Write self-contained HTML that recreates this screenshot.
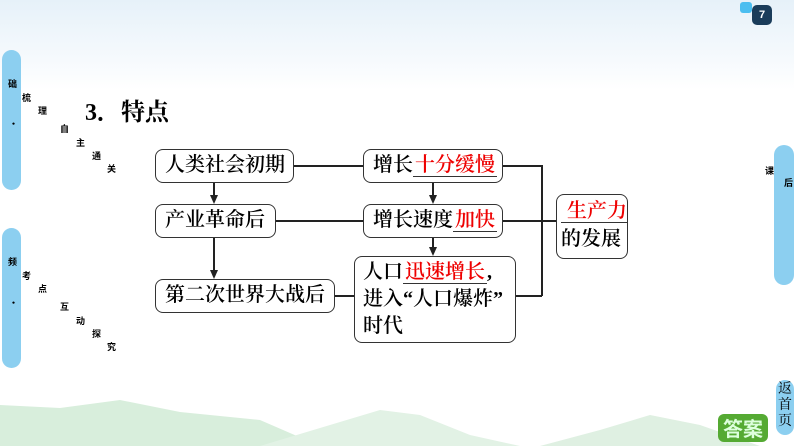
<!DOCTYPE html>
<html><head><meta charset="utf-8"><style>
body{margin:0;width:794px;height:446px;overflow:hidden;position:relative;background:linear-gradient(#e6f1f9 0,#f6fafd 60px,#fff 90px);font-family:"Liberation Serif","Noto Serif CJK SC",serif;}
.b{position:absolute;border:1.5px solid #333;border-radius:8px;box-sizing:border-box;background:#fff;font-size:20px;font-weight:600;color:#000;line-height:31px;padding-left:9px;white-space:nowrap}
.r{color:#e00;border-bottom:1.5px solid #333;padding:0 2px}
.h{position:absolute;background:#222;height:1.5px}
.v{position:absolute;background:#222;width:1.5px}
.ar{position:absolute;width:0;height:0;border-left:4px solid transparent;border-right:4px solid transparent;border-top:9px solid #222}
.pill{position:absolute;background:#8ccff0;border-radius:10px}
.sm{position:absolute;font-size:9px;font-family:"Noto Sans CJK SC",sans-serif;font-weight:bold}
</style></head><body>
<svg style="position:absolute;left:0;top:380px" width="794" height="66"><path d="M0 25 L60 28 L120 20 L180 32 L260 40 L320 66 L0 66Z" fill="#d8eedc"/><path d="M260 66 L330 45 L380 30 L420 35 L470 55 L520 66Z" fill="#e2f2e5"/><path d="M540 66 L600 50 L650 35 L700 45 L760 66Z" fill="#dff0e2"/></svg>
<div class="pill" style="left:2px;top:50px;width:19px;height:140px"></div>
<div class="pill" style="left:2px;top:228px;width:19px;height:140px"></div>
<div class="pill" style="left:774px;top:145px;width:20px;height:140px"></div>
<div class="pill" style="left:776px;top:380px;width:18px;height:55px"></div>
<div style="position:absolute;left:778px;top:382px;font-size:14px;line-height:16px;width:14px">返首页</div>
<div style="position:absolute;left:718px;top:414px;width:50px;height:28px;border-radius:6px;background:#5a3;color:#dfd;font-weight:bold;font-size:20px;line-height:28px;text-align:center;font-family:'Noto Sans CJK SC',sans-serif">答案</div>
<div style="position:absolute;left:740px;top:2px;width:12px;height:11px;background:#4bbef0;border-radius:3px"></div>
<div style="position:absolute;left:752px;top:5px;width:20px;height:20px;background:#1a3c5a;border-radius:5px;color:#fff;font-size:11px;font-weight:bold;text-align:center;line-height:20px;font-family:'Liberation Sans',sans-serif">7</div>
<div class="sm" style="left:8px;top:77px">础</div>
<div class="sm" style="left:22px;top:91px">梳</div><div class="sm" style="left:38px;top:104px">理</div><div class="sm" style="left:9px;top:117px">·</div>
<div class="sm" style="left:60px;top:122px">自</div><div class="sm" style="left:76px;top:136px">主</div><div class="sm" style="left:92px;top:149px">通</div><div class="sm" style="left:107px;top:162px">关</div>
<div class="sm" style="left:8px;top:255px">频</div><div class="sm" style="left:22px;top:269px">考</div><div class="sm" style="left:38px;top:282px">点</div><div class="sm" style="left:9px;top:296px">·</div>
<div class="sm" style="left:60px;top:300px">互</div><div class="sm" style="left:76px;top:314px">动</div><div class="sm" style="left:92px;top:327px">探</div><div class="sm" style="left:107px;top:340px">究</div>
<div class="sm" style="left:765px;top:164px">课</div><div class="sm" style="left:784px;top:176px">后</div>
<div style="position:absolute;left:85px;top:92px;font-size:24px;font-weight:bold">3．特点</div>
<div class="h" style="left:293px;top:165px;width:70px"></div>
<div class="h" style="left:275px;top:220px;width:88px"></div>
<div class="h" style="left:334px;top:295px;width:20px"></div>
<div class="h" style="left:502px;top:165px;width:40px"></div>
<div class="h" style="left:515px;top:295px;width:27px"></div>
<div class="v" style="left:541px;top:165px;height:131px"></div>
<div class="h" style="left:502px;top:220px;width:54px"></div>
<div class="v" style="left:213px;top:182px;height:14px"></div><div class="ar" style="left:210px;top:195px"></div>
<div class="v" style="left:213px;top:237px;height:34px"></div><div class="ar" style="left:210px;top:270px"></div>
<div class="v" style="left:432px;top:182px;height:14px"></div><div class="ar" style="left:429px;top:195px"></div>
<div class="v" style="left:432px;top:237px;height:11px"></div><div class="ar" style="left:429px;top:247px"></div>
<div class="b" style="left:155px;top:149px;width:139px;height:34px">人类社会初期</div>
<div class="b" style="left:155px;top:204px;width:121px;height:34px">产业革命后</div>
<div class="b" style="left:155px;top:279px;width:180px;height:34px">第二次世界大战后</div>
<div class="b" style="left:363px;top:149px;width:140px;height:34px">增长<span class="r">十分缓慢</span></div>
<div class="b" style="left:363px;top:204px;width:140px;height:34px">增长速度<span class="r">加快</span></div>
<div class="b" style="left:354px;top:256px;width:162px;height:87px;line-height:27px;padding-top:2px;padding-left:8px">人口<span class="r">迅速增长</span>,<br>进入“人口爆炸”<br>时代</div>
<div class="b" style="left:556px;top:194px;width:72px;height:65px;padding-left:4px;line-height:28px;padding-top:2px"><span class="r" style="padding:0 0 0 6px">生产力</span><br>的发展</div>
</body></html>
